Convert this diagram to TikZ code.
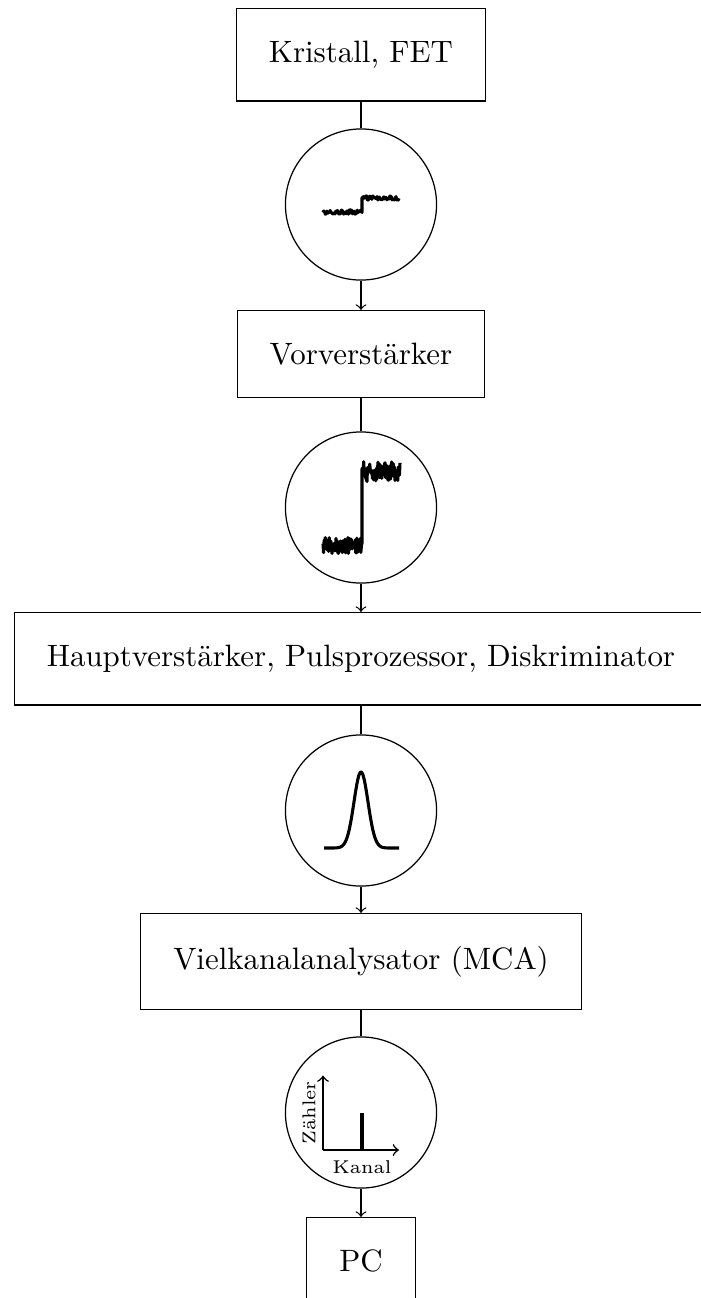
\documentclass[tikz,border=0pt]{standalone}
\begin{document}
\begin{tikzpicture}[x=0.32357pt, y=-0.32357pt,
  block/.style={draw, line width=0.4pt, inner sep=10.5pt},
  sigcircle/.style={draw, circle, line width=0.4pt, minimum size=48.9pt, inner sep=0pt},
  wire/.style={line width=0.4pt},
  feed/.style={line width=0.4pt, ->},
  trace/.style={line width=1pt, line join=round},
  axis/.style={line width=0.5pt, ->},
  axislabel/.style={font=\fontsize{6}{7}\selectfont, inner sep=0pt}]
\useasboundingbox (0,0) rectangle (701,1298);
\pgfmathsetseed{7}

% processing chain
\node[block, anchor=north] (fet) at (361,8) {Kristall, FET};
\node[sigcircle] (s1) at (361,204.5) {};
\node[block, anchor=north] (pre) at (361,310) {Vorverstärker};
\node[sigcircle] (s2) at (361,507.5) {};
\node[block, anchor=north] (main) at (361,612) {Hauptverstärker, Pulsprozessor, Diskriminator};
\node[sigcircle] (s3) at (361,810.5) {};
\node[block, anchor=north] (mca) at (361,913) {Vielkanalanalysator (MCA)};
\node[sigcircle] (s4) at (361,1112.5) {};
\node[block, anchor=north] (pc) at (361,1217) {PC};

\draw[wire] (fet) -- (s1);
\draw[feed] (s1) -- (pre);
\draw[wire] (pre) -- (s2);
\draw[feed] (s2) -- (main);
\draw[wire] (main) -- (s3);
\draw[feed] (s3) -- (mca);
\draw[wire] (mca) -- (s4);
\draw[feed] (s4) -- (pc);

% detector step with small noise
\begin{scope}[shift={(s1.center)}]
  \draw[trace] plot[domain=-38:1, samples=50] (\x, {7.5+2.2*rand})
    -- plot[domain=1:38, samples=50] (\x, {-6.5+2.2*rand});
\end{scope}

% amplified step with amplified noise
\begin{scope}[shift={(s2.center)}]
  \draw[trace] plot[domain=-38:1, samples=70] (\x, {38+8*rand})
    -- plot[domain=1:39, samples=70] (\x, {-36+10*rand});
\end{scope}

% shaped pulse
\begin{scope}[shift={(s3.center)}]
  \draw[trace] plot[domain=-37:38, samples=120] (\x, {37.5-76*exp(-(\x*\x)/98)});
\end{scope}

% spectrum sketch
\begin{scope}[shift={(s4.center)}]
  \coordinate (o) at (-38,37.5);
  \coordinate (xend) at (38,37.5);
  \coordinate (yend) at (-38,-37);
  \draw[axis] (o) -- (xend);
  \draw[axis] (o) -- (yend);
  \draw[line width=1.1pt] (1,37.5) -- (1,0.5);
  \node[axislabel, rotate=90] (zl) at (-52,0.5) {Zähler};
  \node[axislabel] (kl) at (1,55) {Kanal};
\end{scope}
\end{tikzpicture}
\end{document}
